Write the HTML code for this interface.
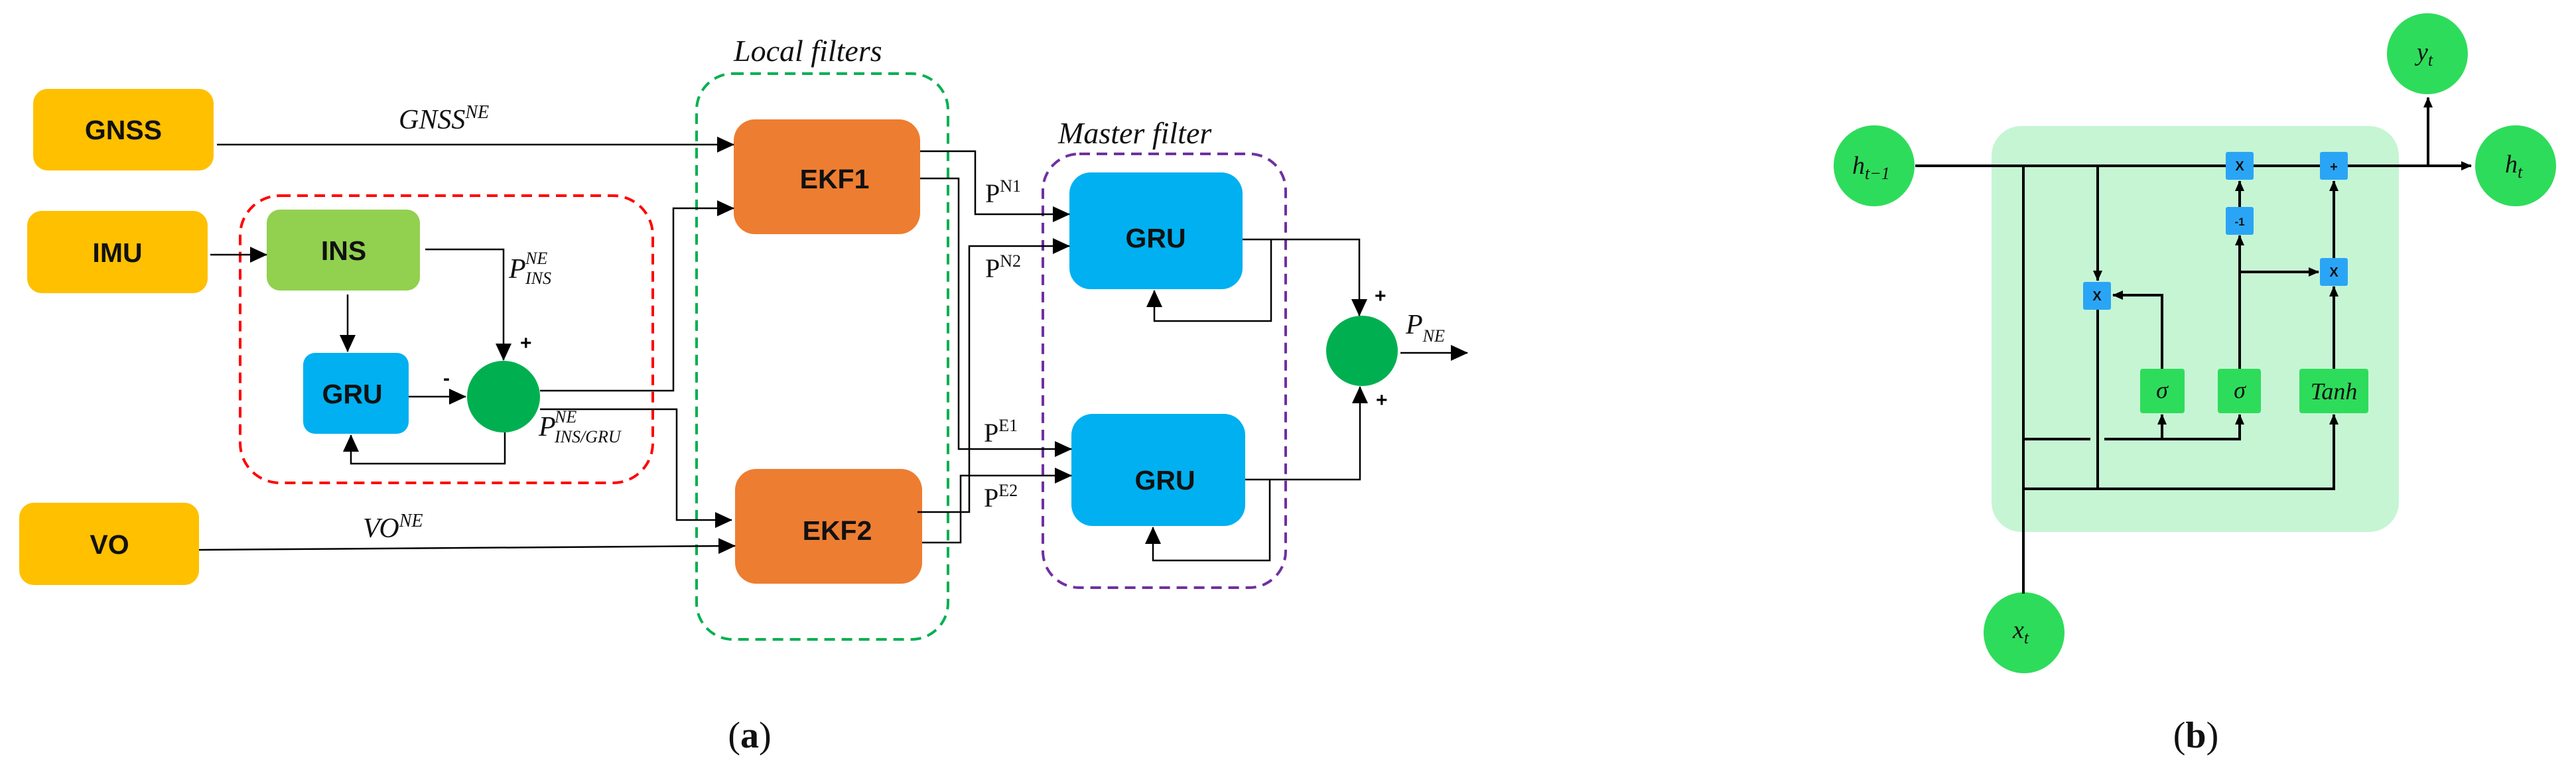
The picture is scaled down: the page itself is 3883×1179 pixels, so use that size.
<!DOCTYPE html>
<html><head><meta charset="utf-8"><style>
html,body{margin:0;padding:0;background:#fff;}
svg{display:block;}
.bx{font-family:"Liberation Sans",sans-serif;font-weight:bold;font-size:41px;fill:#111;}
.it{font-family:"Liberation Serif",serif;font-style:italic;fill:#111;}
.rm{font-family:"Liberation Serif",serif;fill:#111;}
</style></head><body>
<svg width="3883" height="1179" viewBox="0 0 3883 1179" xmlns="http://www.w3.org/2000/svg">
<defs>
<marker id="A" markerWidth="26" markerHeight="26" refX="25" refY="13" orient="auto" markerUnits="userSpaceOnUse" viewBox="0 0 26 26"><path d="M0,1 L26,13 L0,25z" fill="#000"/></marker>
<marker id="s" markerWidth="16" markerHeight="16" refX="15" refY="8" orient="auto" markerUnits="userSpaceOnUse" viewBox="0 0 16 16"><path d="M0,1 L16,8 L0,15z" fill="#000"/></marker>
</defs>

<g fill="none" stroke-width="4" stroke-dasharray="16,10">
<rect x="362" y="295" width="622" height="433" rx="60" stroke="#FF0000"/>
<rect x="1050" y="111" width="379" height="853" rx="55" stroke="#00B050"/>
<rect x="1572" y="232" width="366" height="654" rx="55" stroke="#7030A0"/>
</g>

<rect x="50" y="134" width="272" height="123" rx="22" fill="#FFC000"/>
<rect x="41" y="318" width="272" height="124" rx="22" fill="#FFC000"/>
<rect x="29" y="758" width="271" height="124" rx="22" fill="#FFC000"/>
<rect x="402" y="316" width="231" height="122" rx="20" fill="#92D050"/>
<rect x="457" y="532" width="159" height="122" rx="18" fill="#00B0F0"/>
<ellipse cx="759" cy="598" rx="55" ry="54" fill="#00B050"/>
<rect x="1106" y="180" width="281" height="173" rx="32" fill="#ED7D31"/>
<rect x="1108" y="707" width="282" height="173" rx="32" fill="#ED7D31"/>
<rect x="1612" y="260" width="261" height="176" rx="32" fill="#00B0F0"/>
<rect x="1615" y="624" width="262" height="169" rx="32" fill="#00B0F0"/>
<ellipse cx="2053" cy="529" rx="54" ry="53" fill="#00B050"/>

<text class="bx" x="186" y="210" text-anchor="middle">GNSS</text>
<text class="bx" x="177" y="395" text-anchor="middle">IMU</text>
<text class="bx" x="165" y="835" text-anchor="middle">VO</text>
<text class="bx" x="518" y="392" text-anchor="middle">INS</text>
<text class="bx" x="531" y="608" text-anchor="middle">GRU</text>
<text class="bx" x="1258" y="284" text-anchor="middle">EKF1</text>
<text class="bx" x="1262" y="814" text-anchor="middle">EKF2</text>
<text class="bx" x="1742" y="373" text-anchor="middle">GRU</text>
<text class="bx" x="1756" y="738" text-anchor="middle">GRU</text>

<g fill="none" stroke="#000" stroke-width="2.5">
<path d="M327,218 H1106" marker-end="url(#A)"/>
<path d="M317,384 H402" marker-end="url(#A)"/>
<path d="M641,376 H759 V543" marker-end="url(#A)"/>
<path d="M524,444 V530" marker-end="url(#A)"/>
<path d="M616,598 H702" marker-end="url(#A)"/>
<path d="M761,652 V699 H529 V656" marker-end="url(#A)"/>
<path d="M814,589 H1015 V314 H1106" marker-end="url(#A)"/>
<path d="M814,617 H1020 V784 H1103" marker-end="url(#A)"/>
<path d="M300,829 L1108,823" marker-end="url(#A)"/>
<path d="M1387,228 H1470 V323 H1612" marker-end="url(#A)"/>
<path d="M1387,269 H1445 V677 H1615" marker-end="url(#A)"/>
<path d="M1383,772 H1461 V371 H1612" marker-end="url(#A)"/>
<path d="M1390,818 H1448 V717 H1615" marker-end="url(#A)"/>
<path d="M1873,361 H2049 V476" marker-end="url(#A)"/>
<path d="M1916,361 V484 H1740 V438" marker-end="url(#A)"/>
<path d="M1877,723 H2050 V583" marker-end="url(#A)"/>
<path d="M1914,723 V845 H1738 V795" marker-end="url(#A)"/>
<path d="M2111,532 H2212" marker-end="url(#A)"/>
</g>

<g font-family="Liberation Sans,sans-serif" font-weight="bold" font-size="30" fill="#000">
<text x="784" y="527">+</text>
<text x="668" y="580">-</text>
<text x="2072" y="456">+</text>
<text x="2074" y="613">+</text>
</g>

<text class="it" x="601" y="194" font-size="42">GNSS<tspan font-size="28" dy="-16">NE</tspan></text>
<text class="it" x="547" y="810" font-size="42">VO<tspan font-size="28" dy="-16">NE</tspan></text>
<text class="it" x="767" y="419" font-size="42">P</text>
<text class="it" x="792" y="398" font-size="26">NE</text>
<text class="it" x="792" y="428" font-size="26">INS</text>
<text class="it" x="812" y="657" font-size="42">P</text>
<text class="it" x="836" y="637" font-size="26">NE</text>
<text class="it" x="836" y="667" font-size="26">INS/GRU</text>
<text class="it" x="2119" y="503" font-size="42">P<tspan font-size="26" dy="12">NE</tspan></text>
<text class="it" x="1106" y="92" font-size="46">Local filters</text>
<text class="it" x="1595" y="216" font-size="46">Master filter</text>
<text class="rm" x="1485" y="305" font-size="40">P<tspan font-size="26" dy="-16">N1</tspan></text>
<text class="rm" x="1485" y="418" font-size="40">P<tspan font-size="26" dy="-16">N2</tspan></text>
<text class="rm" x="1483" y="666" font-size="40">P<tspan font-size="26" dy="-16">E1</tspan></text>
<text class="rm" x="1483" y="764" font-size="40">P<tspan font-size="26" dy="-16">E2</tspan></text>
<text class="rm" x="1130" y="1127" font-size="56" text-anchor="middle">(<tspan font-weight="bold">a</tspan>)</text>

<rect x="3002" y="190" width="614" height="612" rx="45" fill="#C6F5D4"/>
<g fill="#2EDC5B">
<circle cx="2825" cy="250" r="61"/>
<circle cx="3659" cy="81" r="61"/>
<circle cx="3792" cy="250" r="61"/>
<circle cx="3051" cy="954" r="61"/>
<rect x="3226" y="556" width="67" height="67" rx="4"/>
<rect x="3343" y="556" width="65" height="67" rx="4"/>
<rect x="3466" y="556" width="104" height="67" rx="4"/>
</g>
<g fill="none" stroke="#000" stroke-width="4">
<path d="M2887,250 H3725" marker-end="url(#s)"/>
<path d="M3660,250 V147" marker-end="url(#s)"/>
<path d="M3050,250 V895"/>
<path d="M3162,250 V423" marker-end="url(#s)"/>
<path d="M3259,556 V445 H3185" marker-end="url(#s)"/>
<path d="M3162,466 V737"/>
<path d="M3376,556 V355" marker-end="url(#s)"/>
<path d="M3376,312 V273" marker-end="url(#s)"/>
<path d="M3376,410 H3495" marker-end="url(#s)"/>
<path d="M3518,556 V432" marker-end="url(#s)"/>
<path d="M3518,390 V273" marker-end="url(#s)"/>
<path d="M3050,662 H3151 M3172,662 H3376 V625" marker-end="url(#s)"/>
<path d="M3259,662 V625" marker-end="url(#s)"/>
<path d="M3050,737 H3518 V625" marker-end="url(#s)"/>
</g>
<g fill="#2AA5F5">
<rect x="3140" y="425" width="42" height="42" rx="3"/>
<rect x="3355" y="229" width="42" height="42" rx="3"/>
<rect x="3497" y="229" width="42" height="42" rx="3"/>
<rect x="3355" y="312" width="42" height="42" rx="3"/>
<rect x="3497" y="389" width="42" height="42" rx="3"/>
</g>
<g font-family="Liberation Sans,sans-serif" font-size="20" font-weight="bold" fill="#111" text-anchor="middle">
<text x="3161" y="453">X</text>
<text x="3376" y="257">X</text>
<text x="3518" y="258">+</text>
<text x="3376" y="340" font-size="17">-1</text>
<text x="3518" y="417">X</text>
</g>
<g class="it" font-size="36" text-anchor="middle">
<text x="3259" y="600">σ</text>
<text x="3376" y="600">σ</text>
<text x="3518" y="602">Tanh</text>
</g>
<text class="it" x="2792" y="262" font-size="38">h<tspan font-size="26" dy="8">t−1</tspan></text>
<text class="it" x="3643" y="91" font-size="38">y<tspan font-size="26" dy="8">t</tspan></text>
<text class="it" x="3776" y="260" font-size="38">h<tspan font-size="26" dy="8">t</tspan></text>
<text class="it" x="3034" y="962" font-size="38">x<tspan font-size="26" dy="8">t</tspan></text>
<text class="rm" x="3310" y="1127" font-size="56" text-anchor="middle">(<tspan font-weight="bold">b</tspan>)</text>
</svg>
</body></html>
